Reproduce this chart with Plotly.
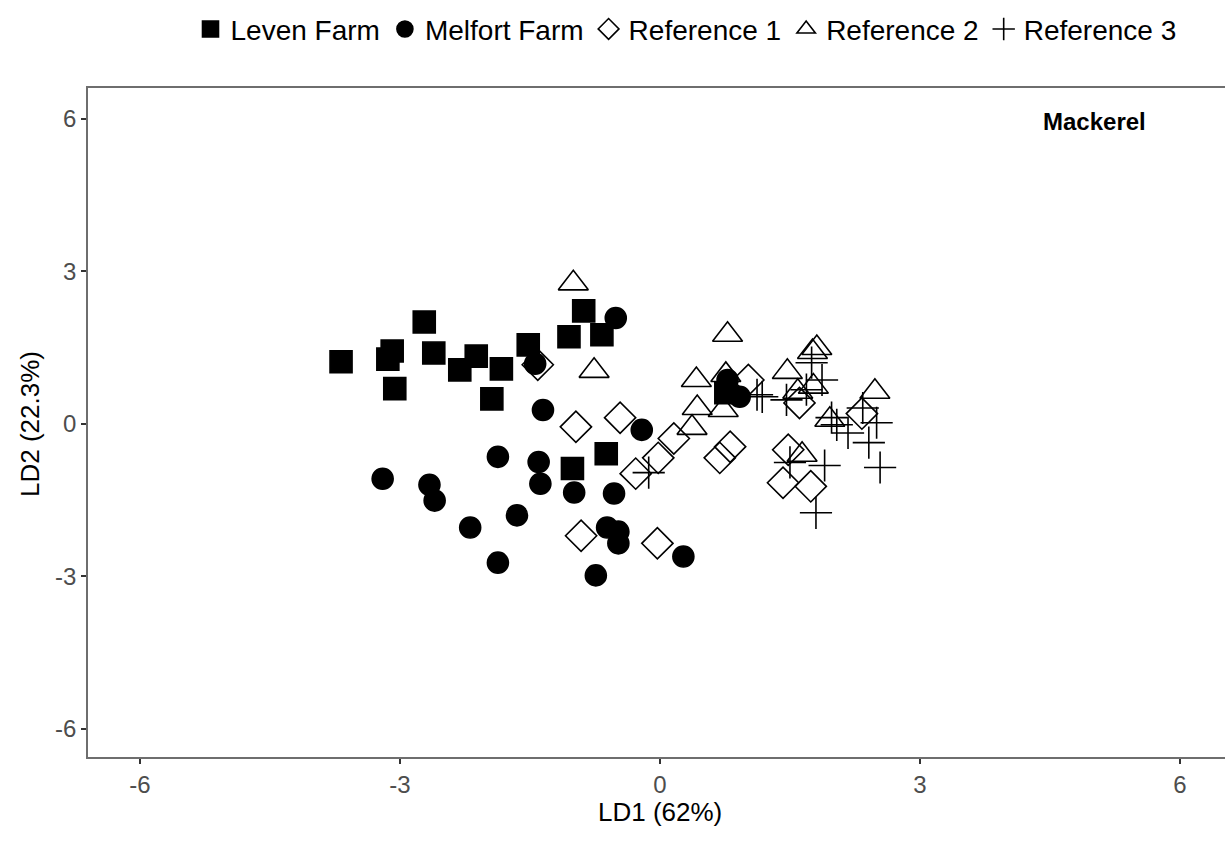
import plotly.graph_objects as go

# Leven Farm (squares)
leven_x = [-3.68, -3.09, -3.14, -3.06, -2.72, -2.61, -2.31, -2.12, -1.83, -1.94,
           -1.52, -1.05, -0.88, -0.67, -0.62, -1.01, 0.76]
leven_y = [1.22, 1.43, 1.27, 0.69, 2.00, 1.39, 1.06, 1.33, 1.08, 0.49,
           1.55, 1.71, 2.22, 1.75, -0.59, -0.88, 0.61]

# Melfort Farm (circles)
melfort_x = [-0.51, -1.44, -1.35, -0.21, -3.20, -2.66, -2.60, -1.87, -1.40, -1.38,
             -0.99, -0.53, -2.19, -1.65, -0.61, -0.48, -0.48, -1.87, -0.74, 0.27,
             0.78, 0.92]
melfort_y = [2.08, 1.18, 0.27, -0.12, -1.08, -1.20, -1.51, -0.65, -0.75, -1.18,
             -1.35, -1.37, -2.04, -1.80, -2.04, -2.12, -2.35, -2.73, -2.98, -2.61,
             0.86, 0.53]

# Reference 1 (open diamonds)
ref1_x = [-1.41, -0.97, -0.46, -0.91, -0.03, 0.16, -0.02, -0.28, 0.69, 0.81,
          1.02, 1.61, 1.48, 1.42, 1.74, 2.33]
ref1_y = [1.16, -0.06, 0.12, -2.20, -2.35, -0.29, -0.67, -0.98, -0.67, -0.45,
          0.86, 0.41, -0.51, -1.16, -1.23, 0.20]

# Reference 2 (open triangles)
ref2_x = [-1.00, -0.76, 0.78, 0.42, 0.43, 0.37, 0.73, 0.76, 1.47, 1.81,
          1.76, 1.59, 1.77, 1.96, 2.48, 1.64]
ref2_y = [2.76, 1.04, 1.75, 0.86, 0.31, -0.08, 0.27, 0.96, 1.02, 1.49,
          1.41, 0.63, 0.73, 0.08, 0.63, -0.61]

# Reference 3 (crosses)
ref3_x = [-0.13, 1.18, 1.12, 1.46, 1.69, 1.75, 1.87, 1.98, 2.04, 2.17,
          2.34, 2.50, 2.41, 2.54, 1.50, 1.90, 1.80]
ref3_y = [-0.96, 0.53, 0.57, 0.47, 0.67, 1.20, 0.86, 0.12, -0.02, -0.18,
          0.31, 0.02, -0.37, -0.86, -0.76, -0.82, -1.75]

x_ticks = [-6, -3, 0, 3, 6]
x_tick_labels = ["-6", "-3", "0", "3", "6"]
y_ticks = [-6, -3, 0, 3, 6]
y_tick_labels = ["-6", "-3", "0", "3", "6"]

FONT = "Liberation Sans, Arial, sans-serif"
L, R, T, B = 88, 0, 88, 91
W, H = 1225, 848
PW, PH = W - L - R, H - T - B

fig = go.Figure()

series = [
    ("Leven Farm", leven_x, leven_y, "square", 22),
    ("Melfort Farm", melfort_x, melfort_y, "circle", 21),
    ("Reference 1", ref1_x, ref1_y, "diamond-open", 24),
    ("Reference 2", ref2_x, ref2_y, "triangle-up-open", 26),
    ("Reference 3", ref3_x, ref3_y, "cross-thin-open", 23),
]
for name, xs, ys, sym, size in series:
    fig.add_trace(go.Scatter(
        x=xs, y=ys, mode="markers", name=name,
        marker=dict(symbol=sym, size=size, color="black",
                    line=dict(color="black", width=1.6)),
    ))

fig.add_annotation(x=(1094 - L) / PW, y=(H - B - 121) / PH, xref="paper", yref="paper",
                   text="<b>Mackerel</b>", showarrow=False,
                   font=dict(size=24, color="black", family=FONT),
                   xanchor="center", yanchor="middle")
fig.add_annotation(x=(660 - L) / PW, y=(H - B - 812) / PH, xref="paper", yref="paper",
                   text="LD1 (62%)", showarrow=False,
                   font=dict(size=26, color="black", family=FONT),
                   xanchor="center", yanchor="middle")
fig.add_annotation(x=(30 - L) / PW, y=(H - B - 424) / PH, xref="paper", yref="paper",
                   text="LD2 (22.3%)", showarrow=False, textangle=-90,
                   font=dict(size=26, color="black", family=FONT),
                   xanchor="center", yanchor="middle")

axis_common = dict(showgrid=False, zeroline=False, ticks="outside", ticklen=5,
                   tickwidth=1.5, tickcolor="#333333", showline=True,
                   linecolor="#6e6e6e", linewidth=1.5, automargin=False,
                   tickfont=dict(size=24, color="#4d4d4d", family=FONT))

fig.update_xaxes(range=[-6.6, 6.52], tickvals=x_ticks, ticktext=x_tick_labels,
                 mirror=True, **axis_common)
fig.update_yaxes(range=[-6.55, 6.6], tickvals=y_ticks, ticktext=y_tick_labels,
                 **axis_common)

fig.update_layout(
    width=W, height=H,
    margin=dict(l=L, r=R, t=T, b=B),
    plot_bgcolor="white", paper_bgcolor="white",
    font=dict(family=FONT, color="black"),
    legend=dict(orientation="h", xref="container", yref="container",
                x=0.56, y=0.995, xanchor="center", yanchor="top",
                font=dict(size=28, color="black", family=FONT), itemwidth=30,
                tracegroupgap=0),
)

fig.write_html("out.html")
